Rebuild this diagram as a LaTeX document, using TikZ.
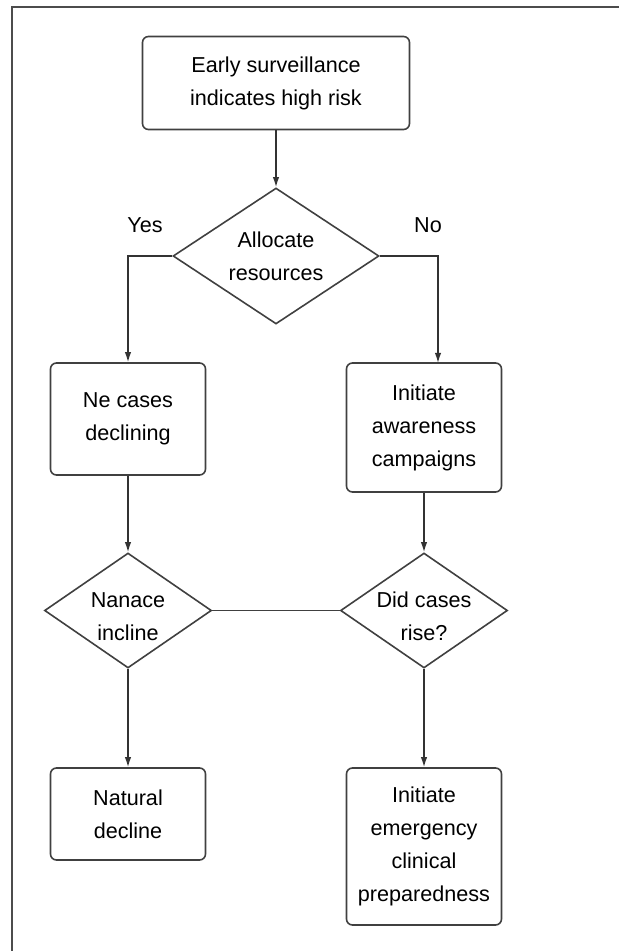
\documentclass[tikz,border=0pt]{standalone}
\usepackage{fontspec}
\setmainfont{Liberation Sans}
\usetikzlibrary{arrows.meta,shapes.geometric}

\tikzset{
	proc/.style={draw=black!75, line width=0.8pt, rounded corners=3pt, align=center, inner sep=0pt},
	decision/.style={draw=black!75, line width=0.8pt, diamond, aspect=1.45, align=center, inner sep=-4pt},
	flow/.style={black!80, line width=0.7pt, -{Latex[length=5pt,width=3.2pt]}},
	link/.style={black!75, line width=0.8pt},
}

\begin{document}
\begin{tikzpicture}[x=0.5pt, y=-0.5pt, every node/.style={font=\fontsize{10.8}{16.5}\selectfont}]
	\useasboundingbox (0,0) rectangle (619,951);
	\draw[black!70, line width=1pt] (12,951) -- (12,7) -- (619,7);
	\node[proc, minimum width=133.5pt, minimum height=46.5pt] (surv) at (276,83) {Early surveillance\\indicates high risk};
	\node[decision, minimum width=103pt, minimum height=68pt] (alloc) at (276,256) {Allocate\\resources};
	\node (yes) at (145,225) {Yes};
	\node (no) at (428,225) {No};
	\node[proc, minimum width=77.5pt, minimum height=56pt] (decl) at (128,419) {Ne cases\\declining};
	\node[proc, minimum width=77.5pt, minimum height=64.5pt] (aware) at (424,427.5) {Initiate\\awareness\\campaigns};
	\coordinate (noin) at (438,363);
	\node[decision, minimum width=83.5pt, minimum height=57.5pt] (incl) at (128,610.5) {\rule{0pt}{14pt}Nanace\\incline};
	\node[decision, minimum width=83.5pt, minimum height=57.5pt] (rise) at (424,610.5) {\rule{0pt}{14pt}Did cases\\rise?};
	\node[proc, minimum width=77.5pt, minimum height=46pt] (natural) at (128,814) {Natural\\decline};
	\node[proc, minimum width=77.5pt, minimum height=78.5pt] (emerg) at (424,846.5) {Initiate\\emergency\\clinical\\preparedness};
	\draw[flow] (surv) -- (alloc);
	\draw[flow] (alloc.west) -| (decl.north);
	\draw[flow] (alloc.east) -| (noin);
	\draw[flow] (decl) -- (incl);
	\draw[flow] (aware) -- (rise);
	\draw[link] (incl) -- (rise);
	\draw[flow] (incl) -- (natural);
	\draw[flow] (rise) -- (emerg);
\end{tikzpicture}
\end{document}
